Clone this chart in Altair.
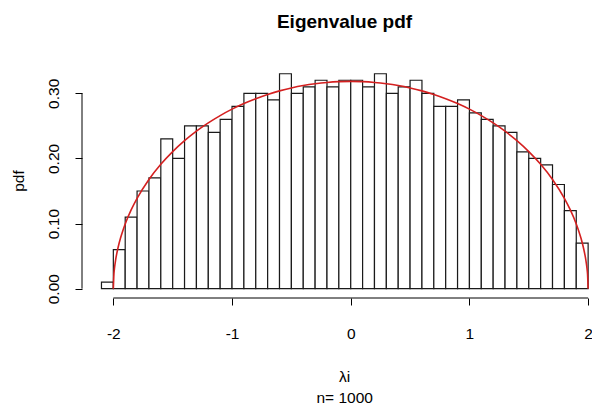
import altair as alt
import pandas as pd

# Histogram bins (left edges, width 0.1) and densities
bin_left = [-2.1, -2.0, -1.9, -1.8, -1.7, -1.6, -1.5, -1.4, -1.3, -1.2, -1.1,
            -1.0, -0.9, -0.8, -0.7, -0.6, -0.5, -0.4, -0.3, -0.2, -0.1,
            0.0, 0.1, 0.2, 0.3, 0.4, 0.5, 0.6, 0.7, 0.8, 0.9,
            1.0, 1.1, 1.2, 1.3, 1.4, 1.5, 1.6, 1.7, 1.8, 1.9]
bin_right = [-2.0, -1.9, -1.8, -1.7, -1.6, -1.5, -1.4, -1.3, -1.2, -1.1, -1.0,
             -0.9, -0.8, -0.7, -0.6, -0.5, -0.4, -0.3, -0.2, -0.1, 0.0,
             0.1, 0.2, 0.3, 0.4, 0.5, 0.6, 0.7, 0.8, 0.9, 1.0,
             1.1, 1.2, 1.3, 1.4, 1.5, 1.6, 1.7, 1.8, 1.9, 2.0]
density = [0.01, 0.06, 0.11, 0.15, 0.17, 0.23, 0.20, 0.25, 0.25, 0.24, 0.26,
           0.28, 0.30, 0.30, 0.29, 0.33, 0.30, 0.31, 0.32, 0.31, 0.32,
           0.32, 0.31, 0.33, 0.30, 0.31, 0.32, 0.30, 0.28, 0.28, 0.29,
           0.27, 0.26, 0.25, 0.24, 0.21, 0.20, 0.19, 0.16, 0.12, 0.07]

# Red semicircle curve
curve_x = [-2.0, -1.995, -1.99, -1.98, -1.96, -1.94, -1.92, -1.9, -1.85, -1.8,
           -1.7, -1.6, -1.5, -1.4, -1.3, -1.2, -1.1, -1.0, -0.9, -0.8, -0.7,
           -0.6, -0.5, -0.4, -0.3, -0.2, -0.1, 0.0,
           0.1, 0.2, 0.3, 0.4, 0.5, 0.6, 0.7, 0.8, 0.9, 1.0, 1.1, 1.2, 1.3,
           1.4, 1.5, 1.6, 1.7, 1.8, 1.85, 1.9, 1.92, 1.94, 1.96, 1.98, 1.99,
           1.995, 2.0]
curve_y = [0.0, 0.0225, 0.0318, 0.0449, 0.0633, 0.0774, 0.0891, 0.0994, 0.1209, 0.1387,
           0.1677, 0.1910, 0.2105, 0.2273, 0.2419, 0.2546, 0.2658, 0.2757, 0.2843, 0.2917, 0.2982,
           0.3037, 0.3082, 0.3119, 0.3147, 0.3167, 0.3179, 0.3183,
           0.3179, 0.3167, 0.3147, 0.3119, 0.3082, 0.3037, 0.2982, 0.2917, 0.2843, 0.2757, 0.2658,
           0.2546, 0.2419, 0.2273, 0.2105, 0.1910, 0.1677, 0.1387, 0.1209, 0.0994, 0.0891,
           0.0774, 0.0633, 0.0449, 0.0318, 0.0225, 0.0]

x_ticks = [-2, -1, 0, 1, 2]
y_ticks = [0.0, 0.05, 0.10, 0.15, 0.20, 0.25, 0.30]

title_text = "Eigenvalue pdf"
xlab = "λi"
sub = "n= 1000"
ylab = "pdf"

FONT = "Liberation Sans"
W, H = 510, 233
LEFT, TOP = 82, 65

bars_df = pd.DataFrame({"x0": bin_left, "x1": bin_right, "d": density,
                        "z": [0.0] * len(density)})
curve_df = pd.DataFrame({"x0": curve_x, "d": curve_y})
one = pd.DataFrame({"a": [0]})

xscale = alt.Scale(domain=[-2.264, 2.0326], nice=False, zero=False)
yscale = alt.Scale(domain=[-0.01428, 0.34345], nice=False, zero=False)

xaxis = alt.Axis(values=x_ticks, title=None, domain=False, grid=False,
                 tickSize=7, tickColor="black", tickWidth=1,
                 labelFont=FONT, labelFontSize=15.5, labelColor="black",
                 labelBaseline="alphabetic", labelPadding=33, labelFlush=False,
                 labelExpr="'' + round(datum.value)")
yaxis = alt.Axis(values=y_ticks, title=None, domain=False, grid=False,
                 tickSize=7, tickColor="black", tickWidth=1,
                 labelFont=FONT, labelFontSize=15.5, labelColor="black",
                 labelAngle=270, labelAlign="center", labelBaseline="alphabetic",
                 labelPadding=17, labelFlush=False,
                 labelExpr="round(datum.value*100) % 10 == 0 ? format(datum.value, '.2f') : ''")

bars = alt.Chart(bars_df).mark_rect(fill="white", stroke="#1a1a1a", strokeWidth=1.2).encode(
    x=alt.X("x0:Q", scale=xscale, axis=xaxis),
    x2="x1:Q",
    y=alt.Y("d:Q", scale=yscale, axis=yaxis),
    y2="z:Q",
)

curve = alt.Chart(curve_df).mark_line(color="#d42020", strokeWidth=1.6,
                                      interpolate="monotone").encode(
    x=alt.X("x0:Q", scale=xscale),
    y=alt.Y("d:Q", scale=yscale),
)

xline = alt.Chart(one).mark_rule(color="black", strokeWidth=1).encode(
    x=alt.datum(-2), x2=alt.datum(2), y=alt.value(H))
yline = alt.Chart(one).mark_rule(color="black", strokeWidth=1).encode(
    y=alt.datum(0.0), y2=alt.datum(0.30), x=alt.value(0))

title = alt.Chart(one).mark_text(text=title_text, font=FONT, fontSize=19, fontWeight="bold",
                                 align="center", baseline="alphabetic", color="black").encode(
    x=alt.value(262.5), y=alt.value(28.3 - TOP))
xl = alt.Chart(one).mark_text(text=xlab, font=FONT, fontSize=15.5,
                              align="center", baseline="alphabetic", color="black").encode(
    x=alt.value(262.7), y=alt.value(381.7 - TOP))
sl = alt.Chart(one).mark_text(text=sub, font=FONT, fontSize=15.5,
                              align="center", baseline="alphabetic", color="black").encode(
    x=alt.value(262.7), y=alt.value(403.3 - TOP))
yl = alt.Chart(one).mark_text(text=ylab, font=FONT, fontSize=15.5, angle=270,
                              align="center", baseline="alphabetic", color="black").encode(
    x=alt.value(24 - LEFT), y=alt.value(181 - TOP))

chart = alt.layer(bars, curve, xline, yline, title, xl, sl, yl).properties(
    width=W, height=H,
    padding={"left": LEFT, "top": TOP, "right": 0, "bottom": 408 - TOP - H},
    autosize=alt.AutoSizeParams(type="none"),
    background="white",
).configure_view(strokeWidth=0)

chart.save("out.html", embed_options={"renderer": "svg", "actions": False})
